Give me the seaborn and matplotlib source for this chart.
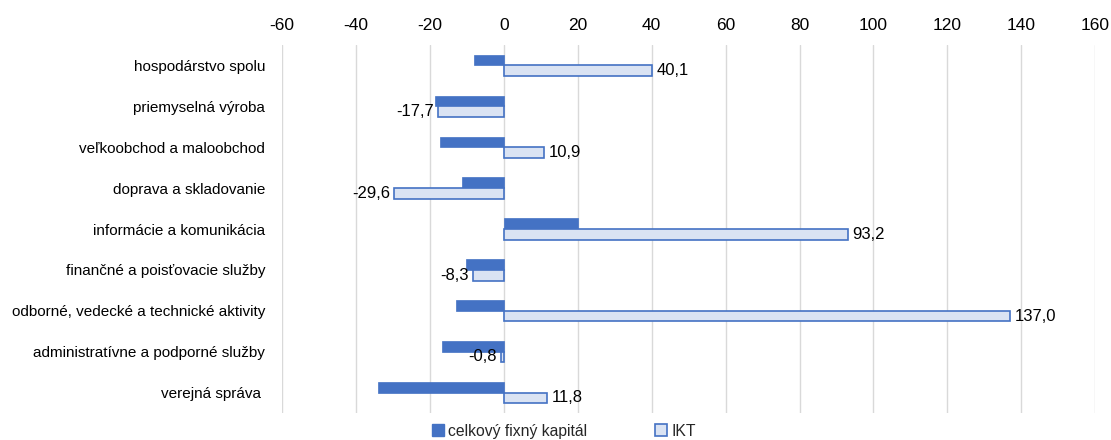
import pandas as pd
import matplotlib.pyplot as plt
import seaborn as sns
from matplotlib.patches import Patch

# --- Data --- #
categories = [
    'hospodárstvo spolu',
    'priemyselná výroba',
    'veľkoobchod a maloobchod',
    'doprava a skladovanie',
    'informácie a komunikácia',
    'finančné a poisťovacie služby',
    'odborné, vedecké a technické aktivity',
    'administratívne a podporné služby',
    'verejná správa ',
]
celkovy = [-8.0, -18.7, -17.3, -11.4, 20.0, -10.3, -12.8, -16.6, -34.0]
ikt = [40.1, -17.7, 10.9, -29.6, 93.2, -8.3, 137.0, -0.8, 11.8]
series_names = ['celkový fixný kapitál', 'IKT']
x_ticks = [-60, -40, -20, 0, 20, 40, 60, 80, 100, 120, 140, 160]

df = pd.DataFrame({
    'kategoria': categories * 2,
    'hodnota': celkovy + ikt,
    'rad': [series_names[0]] * len(categories) + [series_names[1]] * len(categories),
})

# --- Style --- #
sns.set_style('white')
plt.rcParams['font.family'] = ['Liberation Sans', 'DejaVu Sans']
plt.rcParams['axes.unicode_minus'] = False
dark_blue = '#4472C4'
light_blue = '#DAE3F3'

fig = plt.figure(figsize=(11.11, 4.4), dpi=100)
ax = fig.add_axes([282 / 1111, 1 - 413 / 440, (1095.3 - 282) / 1111, (413 - 45) / 440])

sns.barplot(data=df, y='kategoria', x='hodnota', hue='rad', orient='h',
            palette=[dark_blue, light_blue], width=0.52, ax=ax, legend=False,
            saturation=1)

# outline for IKT bars
for bar in ax.containers[1]:
    bar.set_edgecolor(dark_blue)
    bar.set_linewidth(1.2)
for bar in ax.containers[0]:
    bar.set_edgecolor(dark_blue)
    bar.set_linewidth(0.5)

ikt_labels = [f'{v:.1f}'.replace('.', ',') for v in ikt]
ax.bar_label(ax.containers[1], labels=ikt_labels, padding=3, fontsize=12, color='black')

ax.set_xlim(-60, 160)
ax.set_ylim(8.5, -0.5)
ax.set_xticks(x_ticks)
ax.xaxis.tick_top()
ax.tick_params(axis='x', length=0, pad=9, labelsize=12.5, colors='black')
ax.tick_params(axis='y', length=0, pad=12, labelsize=11, colors='black')
ax.grid(axis='x', color='#D9D9D9', linewidth=1)
ax.set_axisbelow(True)
for s in ax.spines.values():
    s.set_visible(False)
ax.set_xlabel('')
ax.set_ylabel('')

handles = [Patch(facecolor=dark_blue, edgecolor=dark_blue),
           Patch(facecolor=light_blue, edgecolor=dark_blue, linewidth=1.2)]
fig.legend(handles, series_names, loc='center', bbox_to_anchor=(564 / 1111, 1 - 431 / 440),
           ncol=2, frameon=False, fontsize=11.3, handlelength=0.75, handleheight=0.75,
           handletextpad=0.3, columnspacing=4.3, borderpad=0)

fig.savefig('out.png', dpi=100)
